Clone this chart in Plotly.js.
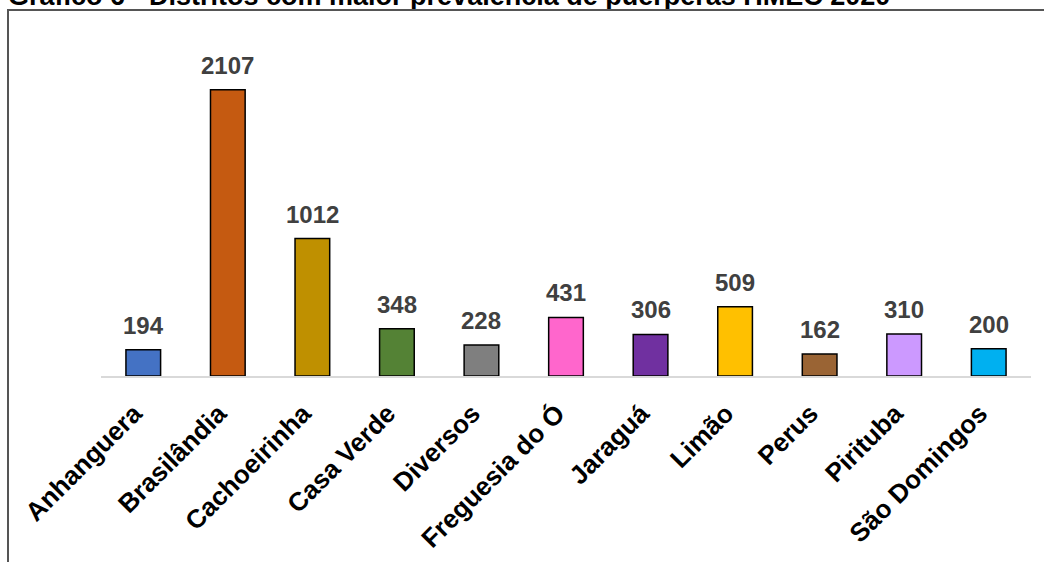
<!DOCTYPE html>
<html>
<head>
<meta charset="utf-8">
<script src="https://cdn.plot.ly/plotly-3.0.1.min.js"></script>
<style>
  html, body { margin: 0; padding: 0; background: #fff; }
  #wrap { position: relative; width: 1044px; height: 562px; overflow: hidden; }
  #chart { position: absolute; left: 0; top: 0; width: 1044px; height: 562px; }
  #frame {
    position: absolute; left: 7px; top: 9px; width: 1100px; height: 600px;
    border-left: 2px solid #555; border-top: 2px solid #555;
    pointer-events: none;
  }
</style>
</head>
<body>
<div id="wrap">
  <div id="chart"></div>
  <div id="frame"></div>
</div>
<script>
// Puérperas atendidas por distrito de residência
const distritos = ["Anhanguera", "Brasilândia", "Cachoeirinha", "Casa Verde", "Diversos",
  "Freguesia do Ó", "Jaraguá", "Limão", "Perus", "Pirituba", "São Domingos"];
const puerperas = [194, 2107, 1012, 348, 228, 431, 306, 509, 162, 310, 200];
const cores = ["#4472C4", "#C55A11", "#BF9000", "#548235", "#7F7F7F",
  "#FF66CC", "#7030A0", "#FFC000", "#9A6434", "#CC99FF", "#00B0F0"];
const titulo = "Gráfico 6 - Distritos com maior prevalência de puérperas HMEC 2020";

const FONT = "Liberation Sans, Arial, sans-serif";

const trace = {
  type: "bar",
  x: distritos,
  y: puerperas,
  marker: { color: cores, line: { color: "#000", width: 1.5 } },
  hoverinfo: "x+y"
};

// Rótulos de valor acima de cada barra
const rotulos = distritos.map((d, i) => ({
  x: d, y: puerperas[i], xref: "x", yref: "y",
  text: String(puerperas[i]), showarrow: false,
  yanchor: "bottom", yshift: 9,
  font: { family: FONT, size: 24, color: "#404040", weight: "bold" }
}));

const layout = {
  width: 1044, height: 562,
  margin: { l: 101, r: 13, t: 50, b: 186 },
  paper_bgcolor: "#fff", plot_bgcolor: "#fff",
  showlegend: false,
  bargap: 0.59,
  title: {
    text: titulo,
    xref: "container", yref: "container",
    x: 8 / 1044, xanchor: "left",
    y: 1 - 4.5 / 562, yanchor: "bottom",
    font: { family: FONT, size: 27, color: "#000", weight: "bold" }
  },
  xaxis: {
    type: "category",
    showline: true, linecolor: "#D9D9D9", linewidth: 2,
    showgrid: false, zeroline: false, ticks: "",
    tickangle: -45,
    ticklabelstandoff: 10,
    ticklabelshift: -9,
    tickfont: { family: FONT, size: 26, color: "#000", weight: "bold" },
    fixedrange: true
  },
  yaxis: {
    range: [0, 2400],
    visible: false, showgrid: false, zeroline: false,
    fixedrange: true
  },
  annotations: rotulos
};

Plotly.newPlot("chart", [trace], layout, { displayModeBar: false, staticPlot: true });
</script>
</body>
</html>
